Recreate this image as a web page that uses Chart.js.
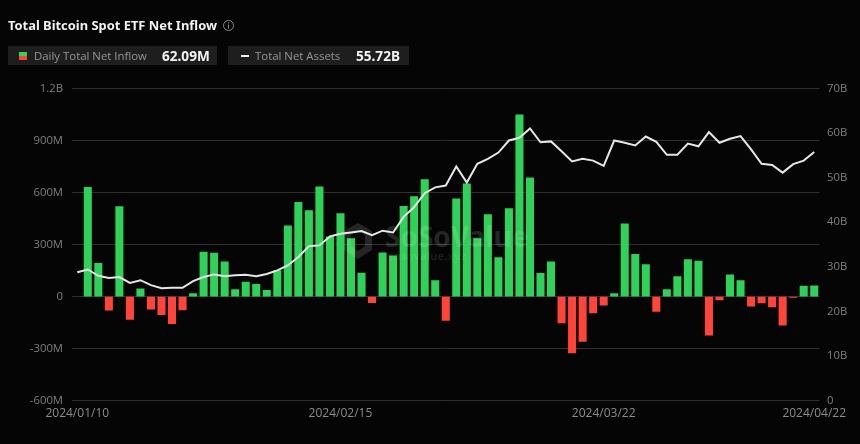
<!DOCTYPE html>
<html>
<head>
<meta charset="utf-8">
<script src="https://cdn.jsdelivr.net/npm/chart.js@4"></script>
<style>
html,body{margin:0;padding:0;background:#050505;width:860px;height:444px;overflow:hidden}
body{position:relative;font-family:"Open Sans",sans-serif}
canvas{position:absolute;left:0;top:0}
.abs{position:absolute;white-space:nowrap}
.title{left:8px;top:17px;font:700 12.9px/17px "Noto Sans",sans-serif;color:#f2f2f2}
.box{top:46px;height:19px;background:#1e1e1e}
.lab{top:46px;font:400 11.4px/19px "Open Sans",sans-serif;color:#969696}
.val{top:46px;font:700 13.6px/19px "Noto Sans",sans-serif;color:#f2f2f2}
.wm{color:rgba(255,255,255,.13);pointer-events:none}
</style>
</head>
<body>
<canvas id="c" width="860" height="444"></canvas>
<div class="abs title">Total Bitcoin Spot ETF Net Inflow</div>
<svg class="abs" style="left:222px;top:19px" width="13" height="13" viewBox="0 0 13 13"><circle cx="6.5" cy="6.5" r="5" fill="none" stroke="#8a8a8a" stroke-width="1"/><rect x="6" y="5.6" width="1" height="4" fill="#8a8a8a"/><rect x="6" y="3.5" width="1" height="1.1" fill="#8a8a8a"/></svg>
<div class="abs box" style="left:8px;width:209px"></div>
<div class="abs" style="left:19px;top:52px;width:8px;height:4px;background:#30d158"></div>
<div class="abs" style="left:19px;top:56px;width:8px;height:4px;background:#ff453a"></div>
<div class="abs lab" style="left:34px">Daily Total Net Inflow</div>
<div class="abs val" style="left:162px">62.09M</div>
<div class="abs box" style="left:228px;width:181px"></div>
<div class="abs" style="left:241px;top:55px;width:8px;height:2px;background:#eeeeee"></div>
<div class="abs lab" style="left:255px">Total Net Assets</div>
<div class="abs val" style="left:356px">55.72B</div>
<svg class="abs wm" style="left:343px;top:222px" width="30" height="38" viewBox="0 0 30 38"><path d="M15 1 29 9V28L15 37 1 28V9ZM15 9 8 13V24L15 29 22 24V13Z" fill="rgba(255,255,255,.13)" fill-rule="evenodd"/></svg>
<div class="abs wm" style="left:385px;top:222px;font:700 28px/28px 'Noto Sans',sans-serif">SoSoValue</div>
<div class="abs wm" style="left:388px;top:249px;font:400 11px/13px 'Noto Sans',sans-serif;letter-spacing:.6px">sosovalue.xyz</div>
<script>
const tickLabels = ["2024/01/10","2024/02/15","2024/03/22","2024/04/22"];
const tickIndexes = [0,25,50,70];
const leftTicks = [-600,-300,0,300,600,900,1200];
const dailyInflow = [null,630,192,-79,518,-132,44,-73,-104,-156,-77,17,257,250,200,40,83,71,36,150,407,543,495,633,344,478,334,136,-35,252,234,520,576,674,92,-138,563,649,334,472,225,507,1047,684,134,200,-152,-325,-259,-94,-50,17,419,244,184,-86,40,115,213,204,-223,-19,125,92,-56,-36,-60,-165,-5,60,62.09];
const netAssets = [28.8,29.4,28.0,27.5,27.7,26.4,27.0,25.9,25.2,25.3,25.3,26.8,27.7,28.3,27.9,28.1,28.2,27.9,28.4,29.2,30.3,32.2,34.6,34.8,36.8,37.4,37.7,38.0,37.1,38.1,37.7,41.2,43.4,46.5,47.8,48.2,52.5,48.9,53.1,54.2,55.6,58.3,58.9,61.0,57.9,58.1,55.9,53.6,54.2,53.8,52.6,58.3,57.8,57.2,59.2,58.0,55.1,55.1,57.6,57.0,60.2,57.8,58.7,59.3,56.3,53.1,52.8,51.1,53.0,53.8,55.72];
const categories = netAssets.map((_, i) => String(i));

const tickFont = {family:'"Open Sans",sans-serif',size:11.3};
const xTickFont = {family:'"Open Sans",sans-serif',size:12};
const tickColor = '#7f7f7f';
new Chart(document.getElementById('c'),{
  data:{
    labels:categories,
    datasets:[
      {type:'line',order:0,yAxisID:'yR',data:netAssets,borderColor:'#e6e6e6',borderWidth:2,pointRadius:0,tension:0,borderJoinStyle:'miter'},
      {type:'bar',order:1,yAxisID:'yL',data:dailyInflow,barThickness:7.4,
       backgroundColor:dailyInflow.map(v=>v>=0?'#30d158':'#ff453a')}
    ]
  },
  options:{
    responsive:false,animation:false,devicePixelRatio:1,
    layout:{padding:{top:88.3,left:0,right:0,bottom:0}},
    plugins:{legend:{display:false},tooltip:{enabled:false},title:{display:false}},
    scales:{
      x:{
        offset:true,
        grid:{display:false,drawTicks:false},border:{display:false},
        afterBuildTicks(s){s.ticks=tickIndexes.map(v=>({value:v}));},
        afterFit(s){s.height=43.3;},
        ticks:{autoSkip:false,maxRotation:0,minRotation:0,padding:6,color:'#8c8c8c',font:xTickFont,
          callback:(v,i)=>tickLabels[i]}
      },
      yL:{
        position:'left',min:-600,max:1200,
        afterBuildTicks(s){s.ticks=leftTicks.map(v=>({value:v}));},
        afterFit(s){s.width=72;},
        border:{display:false},
        grid:{color:'#303030',lineWidth:1,drawTicks:false},
        ticks:{padding:9,color:tickColor,font:tickFont,
          callback:v=>v===0?'0':(v>=1000?(v/1000)+'B':v+'M')}
      },
      yR:{
        position:'right',min:0,max:70,
        afterFit(s){s.width=40.5;},
        border:{display:false},
        grid:{display:false,drawTicks:false},
        ticks:{stepSize:10,padding:7.5,color:tickColor,font:tickFont,
          callback:v=>v===0?'0':v+'B'}
      }
    }
  }
});
</script>
</body>
</html>
